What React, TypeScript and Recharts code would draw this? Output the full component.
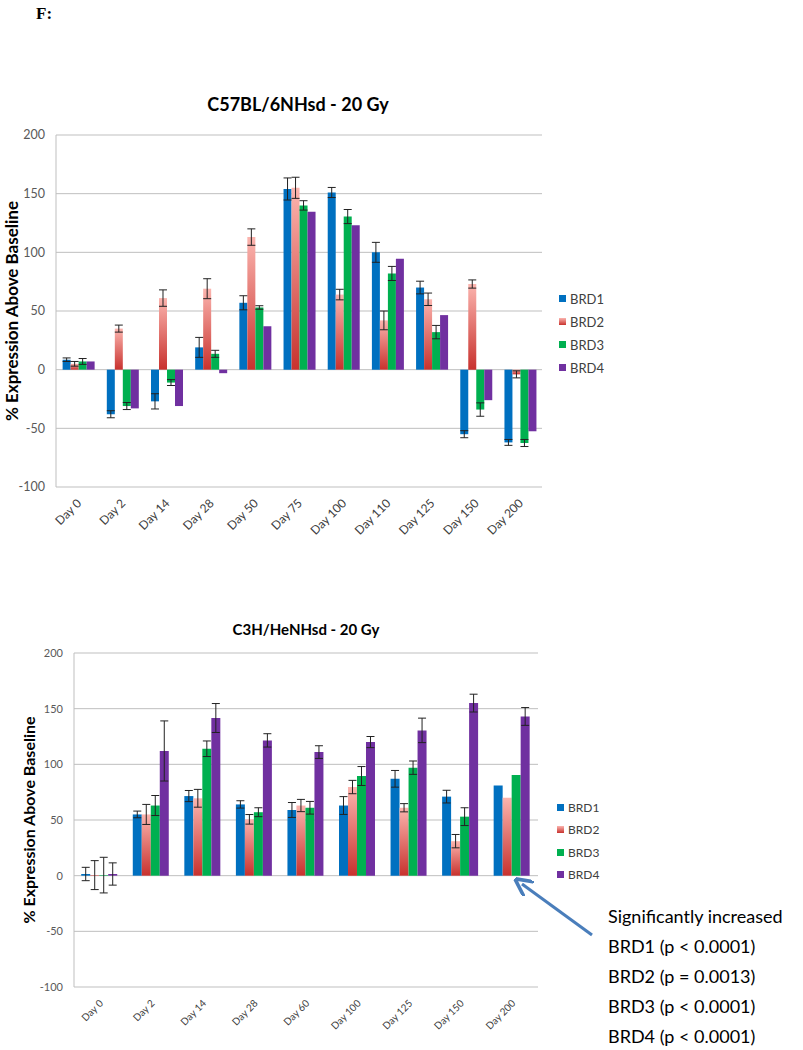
import { BarChart, Bar, XAxis, YAxis, CartesianGrid, ErrorBar } from 'recharts'

// C57BL/6NHsd - 20 Gy
const daysTop = ['Day 0', 'Day 2', 'Day 14', 'Day 28', 'Day 50', 'Day 75', 'Day 100', 'Day 110', 'Day 125', 'Day 150', 'Day 200']
const brd1Top = [8.5, -38, -27, 19, 57, 154, 151, 100, 70, -55, -62]
const brd1TopErr = [1.5, 3, 6.5, 8.5, 6, 9.4, 4.3, 8.5, 5.4, 3, 2.5]
const brd2Top = [5, 35, 61, 69, 113, 155, 64, 42, 60, 73, -4]
const brd2TopErr = [2, 3, 7, 8.5, 7, 9, 4.5, 8, 5.3, 3.5, 3]
const brd3Top = [7, -31, -11, 13.5, 53, 140, 130.5, 82, 32, -34, -62.5]
const brd3TopErr = [2.5, 3, 2.5, 3, 1.5, 4, 6, 6, 5.7, 5.7, 3]
const brd4Top = [7, -33, -31, -3, 37, 134.5, 123, 94.5, 46.5, -26, -52.5]

// C3H/HeNHsd - 20 Gy
const daysBottom = ['Day 0', 'Day 2', 'Day 14', 'Day 28', 'Day 60', 'Day 100', 'Day 125', 'Day 150', 'Day 200']
const brd1Bottom = [1.5, 55, 71.5, 64, 59, 63, 87, 71, 81]
const brd1BottomErr = [6, 3, 5, 3.3, 6.7, 8, 7.5, 5.7, null]
const brd2Bottom = [0.5, 55, 69.5, 50.6, 63, 79.6, 61, 31, 70]
const brd2BottomErr = [13, 9, 8, 4.3, 5.5, 6, 3.7, 6, null]
const brd3Bottom = [0.5, 63, 114, 57, 61, 89.5, 97, 53, 90.5]
const brd3BottomErr = [16, 9, 7, 4, 5.7, 8.5, 6, 8, null]
const brd4Bottom = [1.5, 112, 141.6, 121.5, 111, 120, 130.5, 155, 143]
const brd4BottomErr = [10, 27, 13, 6, 5.7, 5, 11, 8, 8]

const yTicks = [-100, -50, 0, 50, 100, 150, 200]
const seriesNames = ['BRD1', 'BRD2', 'BRD3', 'BRD4']
const solidColors = ['#0070C0', '#E0605A', '#00B050', '#7030A0']
const notes = ['Significantly increased', 'BRD1 (p < 0.0001)', 'BRD2 (p = 0.0013)', 'BRD3 (p < 0.0001)', 'BRD4 (p < 0.0001)']

const font = 'Lato, "Open Sans", sans-serif'

const topData = daysTop.map((d, i) => ({
  day: d,
  b1: brd1Top[i], b1e: brd1TopErr[i],
  b2: brd2Top[i], b2e: brd2TopErr[i],
  b3: brd3Top[i], b3e: brd3TopErr[i],
  b4: brd4Top[i],
}))

const bottomData = daysBottom.map((d, i) => ({
  day: d,
  b1: brd1Bottom[i], b1e: brd1BottomErr[i],
  b2: brd2Bottom[i], b2e: brd2BottomErr[i],
  b3: brd3Bottom[i], b3e: brd3BottomErr[i],
  b4: brd4Bottom[i], b4e: brd4BottomErr[i],
}))

const DayTick = (props: any) => {
  const { x, y, payload, fs } = props
  const tx = x + 4
  const ty = y + 9
  return (
    <text x={tx} y={ty} transform={`rotate(-45 ${tx} ${ty})`} textAnchor="end" fontSize={fs} fill="#404040" fontFamily={font}>
      {payload.value}
    </text>
  )
}

// legend drawn as plain html so it doesn't eat into the plot area
const SeriesLegend = ({ left, top, fs, rowH }: { left: number; top: number; fs: number; rowH: number }) => (
  <div style={{ position: 'absolute', left, top, fontFamily: font, fontSize: fs, color: '#404040' }}>
    {seriesNames.map((n, i) => (
      <div key={n} style={{ display: 'flex', alignItems: 'center', height: rowH }}>
        <span
          style={{
            display: 'inline-block',
            width: 7,
            height: 7,
            marginRight: 4,
            background: i === 1 ? 'linear-gradient(#FBB4AE, #C8322E)' : solidColors[i],
          }}
        />
        <span>{n}</span>
      </div>
    ))}
  </div>
)

const Grad = ({ id }: { id: string }) => (
  <defs>
    <linearGradient id={id} x1="0" y1="0" x2="0" y2="1">
      <stop offset="0%" stopColor="#FBB4AE" />
      <stop offset="100%" stopColor="#C8322E" />
    </linearGradient>
  </defs>
)

const yLabelStyle = (left: number, top: number, fs: number): any => ({
  position: 'absolute',
  left,
  top,
  transform: 'translate(-50%, -50%) rotate(-90deg)',
  fontFamily: font,
  fontWeight: 700,
  fontSize: fs,
  whiteSpace: 'nowrap',
  color: '#000',
})

const titleStyle = (cx: number, cy: number, fs: number): any => ({
  position: 'absolute',
  left: cx,
  top: cy,
  transform: 'translate(-50%, -50%)',
  fontFamily: font,
  fontWeight: 700,
  fontSize: fs,
  whiteSpace: 'nowrap',
  color: '#000',
})

export default function App() {
  return (
    <div style={{ position: 'absolute', left: 0, top: 0, width: 803, height: 1050, background: '#fff', overflow: 'hidden' }}>
      <div style={{ position: 'absolute', left: 36, top: 4, fontFamily: '"Liberation Serif", serif', fontWeight: 700, fontSize: 17 }}>F:</div>

      {/* top chart */}
      <div style={{ position: 'absolute', left: 0, top: 0 }}>
        <BarChart width={803} height={560} data={topData} margin={{ top: 135, right: 261, bottom: 0, left: 26 }} barCategoryGap="15%" barGap={0}>
          <Grad id="gradTop" />
          <CartesianGrid vertical={false} stroke="#BFBFBF" />
          <XAxis dataKey="day" height={73} axisLine={false} tickLine={false} interval={0} tick={<DayTick fs={12} />} />
          <YAxis width={30} domain={[-100, 200]} ticks={yTicks} stroke="#BFBFBF" tickLine={false} tickMargin={5}
            tick={{ fill: '#595959', fontSize: 12.5, fontFamily: font }} />
          <Bar dataKey="b1" name="BRD1" fill={solidColors[0]} isAnimationActive={false}>
            <ErrorBar dataKey="b1e" width={4} stroke="#222" strokeWidth={1} />
          </Bar>
          <Bar dataKey="b2" name="BRD2" fill="url(#gradTop)" isAnimationActive={false}>
            <ErrorBar dataKey="b2e" width={4} stroke="#222" strokeWidth={1} />
          </Bar>
          <Bar dataKey="b3" name="BRD3" fill={solidColors[2]} isAnimationActive={false}>
            <ErrorBar dataKey="b3e" width={4} stroke="#222" strokeWidth={1} />
          </Bar>
          <Bar dataKey="b4" name="BRD4" fill={solidColors[3]} isAnimationActive={false} />
        </BarChart>
        <SeriesLegend left={559} top={287} fs={13} rowH={23} />
        <div style={titleStyle(298, 104, 18)}>C57BL/6NHsd - 20 Gy</div>
        <div style={yLabelStyle(11, 311, 17)}>% Expression Above Baseline</div>
      </div>

      {/* bottom chart */}
      <div style={{ position: 'absolute', left: 0, top: 600 }}>
        <BarChart width={803} height={450} data={bottomData} margin={{ top: 53, right: 265, bottom: 0, left: 38 }} barCategoryGap="14%" barGap={0}>
          <Grad id="gradBottom" />
          <CartesianGrid vertical={false} stroke="#BFBFBF" />
          <XAxis dataKey="day" height={63} axisLine={false} tickLine={false} interval={0} tick={<DayTick fs={10} />} />
          <YAxis width={36} domain={[-100, 200]} ticks={yTicks} stroke="#BFBFBF" tickLine={false} tickMargin={5}
            tick={{ fill: '#595959', fontSize: 11, fontFamily: font }} />
          <Bar dataKey="b1" name="BRD1" fill={solidColors[0]} isAnimationActive={false}>
            <ErrorBar dataKey="b1e" width={4} stroke="#222" strokeWidth={1} />
          </Bar>
          <Bar dataKey="b2" name="BRD2" fill="url(#gradBottom)" isAnimationActive={false}>
            <ErrorBar dataKey="b2e" width={4} stroke="#222" strokeWidth={1} />
          </Bar>
          <Bar dataKey="b3" name="BRD3" fill={solidColors[2]} isAnimationActive={false}>
            <ErrorBar dataKey="b3e" width={4} stroke="#222" strokeWidth={1} />
          </Bar>
          <Bar dataKey="b4" name="BRD4" fill={solidColors[3]} isAnimationActive={false}>
            <ErrorBar dataKey="b4e" width={4} stroke="#222" strokeWidth={1} />
          </Bar>
        </BarChart>
        <SeriesLegend left={557} top={196} fs={12} rowH={22.5} />
        <div style={titleStyle(306, 29, 15)}>C3H/HeNHsd - 20 Gy</div>
        <div style={yLabelStyle(28, 220, 16)}>% Expression Above Baseline</div>
      </div>

      {/* annotation arrow */}
      <svg width={803} height={1050} style={{ position: 'absolute', left: 0, top: 0, pointerEvents: 'none' }}>
        <defs>
          <marker id="arrowHead" markerWidth="6" markerHeight="6" refX="3" refY="3" orient="auto" markerUnits="strokeWidth">
            <path d="M0,0 L6,3 L0,6" fill="none" stroke="#4A7EBB" strokeWidth={1.2} />
          </marker>
        </defs>
        <line x1={592} y1={935} x2={522} y2={884} stroke="#4A7EBB" strokeWidth={3} markerEnd="url(#arrowHead)" />
      </svg>

      <div style={{ position: 'absolute', left: 608, top: 901, fontFamily: font, fontSize: 18, lineHeight: '30px', color: '#000', whiteSpace: 'nowrap' }}>
        {notes.map((t) => (
          <div key={t}>{t}</div>
        ))}
      </div>
    </div>
  )
}
